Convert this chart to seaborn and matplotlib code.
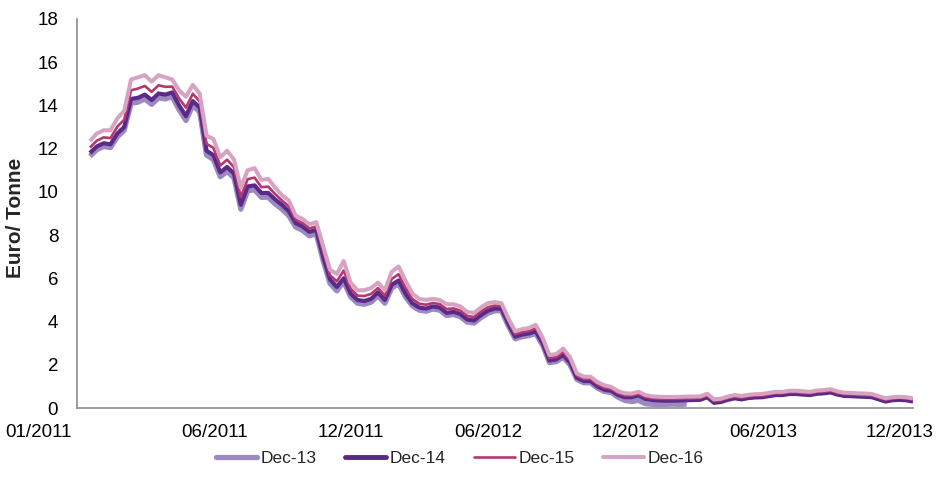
import numpy as np
import pandas as pd
import matplotlib
matplotlib.use("Agg")
import matplotlib.pyplot as plt
import matplotlib.transforms as mtransforms
import seaborn as sns

# ---------------- data (evenly spaced samples) ----------------
tick_labels = ["01/2011", "06/2011", "12/2011", "06/2012", "12/2012", "06/2013", "12/2013"]
series_names = ["Dec-13", "Dec-14", "Dec-15", "Dec-16"]

dec14 = [
    11.8, 12.1, 12.25, 12.2, 12.7, 13.0, 14.3, 14.35, 14.5, 14.25,
    14.55, 14.5, 14.6, 14.0, 13.5, 14.2, 13.9, 11.9, 11.7, 10.9,
    11.15, 10.85, 9.4, 10.25, 10.3, 9.95, 9.95, 9.65, 9.4, 9.1,
    8.55, 8.4, 8.15, 8.24, 7.0, 5.95, 5.6, 6.0, 5.3, 5.0,
    4.95, 5.05, 5.35, 5.0, 5.7, 5.9, 5.3, 4.85, 4.65, 4.6,
    4.7, 4.65, 4.4, 4.45, 4.35, 4.1, 4.05, 4.3, 4.5, 4.6,
    4.6, 3.9, 3.3, 3.4, 3.45, 3.55, 3.0, 2.2, 2.25, 2.45,
    2.1, 1.4, 1.25, 1.25, 1.0, 0.85, 0.8, 0.6, 0.5, 0.5,
    0.58, 0.42, 0.37, 0.35, 0.34, 0.34, 0.35, 0.36, 0.37, 0.38,
    0.5, 0.24, 0.28, 0.38, 0.45, 0.4, 0.46, 0.49, 0.5, 0.55,
    0.6, 0.6, 0.65, 0.65, 0.62, 0.6, 0.66, 0.68, 0.72, 0.62,
    0.56, 0.55, 0.53, 0.52, 0.5, 0.4, 0.3, 0.36, 0.38, 0.36,
    0.3,
]

dec16 = [
    12.35, 12.7, 12.85, 12.85, 13.4, 13.75, 15.2, 15.3, 15.4, 15.1,
    15.4, 15.3, 15.2, 14.7, 14.4, 14.95, 14.55, 12.6, 12.45, 11.6,
    11.9, 11.5, 10.2, 11.0, 11.1, 10.55, 10.6, 10.2, 9.85, 9.6,
    8.9, 8.75, 8.5, 8.6, 7.5, 6.4, 6.2, 6.8, 5.8, 5.45,
    5.45, 5.55, 5.8, 5.45, 6.3, 6.55, 5.9, 5.3, 5.05, 5.0,
    5.05, 5.0, 4.8, 4.8, 4.7, 4.45, 4.4, 4.65, 4.85, 4.9,
    4.85, 4.15, 3.55, 3.65, 3.7, 3.85, 3.25, 2.45, 2.5, 2.75,
    2.35, 1.6, 1.45, 1.45, 1.2, 1.05, 0.98, 0.78, 0.68, 0.67,
    0.75, 0.6, 0.54, 0.52, 0.51, 0.51, 0.52, 0.53, 0.53, 0.54,
    0.66, 0.4, 0.43, 0.53, 0.6, 0.56, 0.61, 0.64, 0.65, 0.7,
    0.75, 0.75, 0.8, 0.8, 0.77, 0.75, 0.81, 0.83, 0.87, 0.77,
    0.71, 0.7, 0.68, 0.67, 0.65, 0.55, 0.45, 0.5, 0.52, 0.5,
    0.45,
]

dec15 = [
    12.05, 12.37, 12.52, 12.49, 13.02, 13.34, 14.7, 14.78, 14.9, 14.63,
    14.93, 14.86, 14.87, 14.32, 13.9, 14.54, 14.19, 12.22, 12.04, 11.22,
    11.49, 11.14, 9.76, 10.59, 10.66, 10.22, 10.24, 9.9, 9.6, 9.33,
    8.71, 8.56, 8.31, 8.4, 7.23, 6.15, 5.86, 6.36, 5.53, 5.2,
    5.18, 5.28, 5.55, 5.2, 5.97, 6.19, 5.57, 5.05, 4.83, 4.78,
    4.86, 4.81, 4.58, 4.61, 4.51, 4.26, 4.21, 4.46, 4.66, 4.74,
    4.71, 4.01, 3.41, 3.51, 3.56, 3.69, 3.11, 2.31, 2.36, 2.59,
    2.21, 1.49, 1.34, 1.34, 1.09, 0.94, 0.88, 0.68, 0.58, 0.58,
    0.66, 0.5, 0.45, 0.43, 0.42, 0.42, 0.43, 0.44, 0.45, 0.46,
    0.58, 0.32, 0.36, 0.46, 0.53, 0.48, 0.54, 0.57, 0.58, 0.63,
    0.68, 0.68, 0.73, 0.73, 0.7, 0.68, 0.74, 0.76, 0.8, 0.7,
    0.64, 0.63, 0.61, 0.6, 0.58, 0.48, 0.38, 0.44, 0.46, 0.44,
    0.38,
]

dec13 = [
    11.65, 11.95, 12.1, 12.05, 12.55, 12.85, 14.1, 14.15, 14.3, 14.05,
    14.35, 14.3, 14.4, 13.8, 13.3, 14.0, 13.7, 11.7, 11.5, 10.7,
    10.95, 10.65, 9.2, 10.05, 10.1, 9.75, 9.75, 9.45, 9.2, 8.9,
    8.37, 8.22, 7.97, 8.06, 6.82, 5.77, 5.42, 5.85, 5.15, 4.85,
    4.8, 4.9, 5.2, 4.85, 5.55, 5.75, 5.15, 4.73, 4.53, 4.48,
    4.58, 4.53, 4.28, 4.33, 4.23, 3.98, 3.93, 4.18, 4.38, 4.5,
    4.5, 3.8, 3.2, 3.3, 3.35, 3.45, 2.9, 2.1, 2.15, 2.35,
    2.0, 1.32, 1.17, 1.17, 0.92, 0.77, 0.72, 0.5, 0.35, 0.3,
    0.35, 0.2, 0.17, 0.16, 0.17, 0.18, 0.17, 0.18,
]

# ---------------- styling ----------------
colors = {"Dec-13": "#9D89C1", "Dec-14": "#5A2A88", "Dec-15": "#B5376F", "Dec-16": "#D6A3C2"}
widths = {"Dec-13": 3.8, "Dec-14": 3.0, "Dec-15": 1.9, "Dec-16": 2.9}

values = {"Dec-13": dec13, "Dec-14": dec14, "Dec-15": dec15, "Dec-16": dec16}
frames = []
for name in series_names:
    v = values[name]
    frames.append(pd.DataFrame({"idx": np.arange(len(v)), "value": v, "series": name}))
df = pd.concat(frames, ignore_index=True)

sns.set_theme(style="white")
plt.rcParams["font.family"] = ["Liberation Sans", "DejaVu Sans"]

fig = plt.figure(figsize=(9.42, 4.91), dpi=100)
ax = fig.add_axes([0.0817, 0.169, 0.8875, 0.7924])

for name in series_names:
    sub = df[df["series"] == name]
    sns.lineplot(data=sub, x="idx", y="value", ax=ax, color=colors[name],
                 linewidth=widths[name], label=name, legend=False,
                 solid_joinstyle="round", solid_capstyle="butt")

step = 20
first_tick = -1.89
ticks = [first_tick + step * k for k in range(len(tick_labels))]
ax.set_xlim(first_tick, 120)
ax.set_xticks(ticks)
ax.set_xticklabels(tick_labels)
ax.set_ylim(0, 18)
ax.set_yticks(range(0, 19, 2))
ax.set_xlabel("")
ax.set_ylabel("Euro/ Tonne", fontsize=15, fontweight="bold", va="center")
ax.yaxis.set_label_coords(-0.073, 0.49)

for s in ["top", "right"]:
    ax.spines[s].set_visible(False)
for s in ["left", "bottom"]:
    ax.spines[s].set_color("#8C8C8C")
    ax.spines[s].set_linewidth(1.2)
ax.tick_params(axis="both", which="both", direction="out", length=4.5, width=1.2,
               color="#8C8C8C", labelsize=13.5, labelcolor="#000000")
ax.tick_params(axis="y", pad=9)
ax.tick_params(axis="x", pad=7)
ax.grid(False)

# first date label sits left of its tick in the reference
shift = mtransforms.ScaledTranslation(-0.38, 0, fig.dpi_scale_trans)
first_lab = ax.get_xticklabels()[0]
first_lab.set_transform(first_lab.get_transform() + shift)

handles = [plt.Line2D([0], [0], color=colors[n], linewidth=lw)
           for n, lw in zip(series_names, [3.8, 3.5, 1.9, 2.9])]
fig.legend(handles, series_names, loc="center", bbox_to_anchor=(0.488, 0.067), ncol=4,
           frameon=False, fontsize=12.5, handlelength=2.35, handletextpad=0.2,
           columnspacing=1.65)

fig.savefig("out.png", dpi=100)
